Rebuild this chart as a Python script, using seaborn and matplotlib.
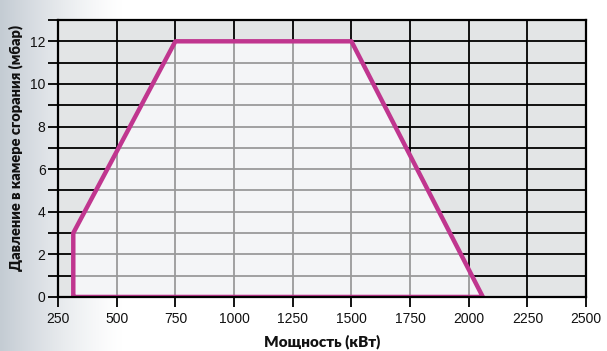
import numpy as np
import seaborn as sns
import matplotlib.pyplot as plt
from matplotlib.patches import Polygon

# Working field of the burner
power_kw = [315, 315, 750, 1500, 2060, 315]
pressure_mbar = [0, 3, 12, 12, 0, 0]

x_ticks = [250, 500, 750, 1000, 1250, 1500, 1750, 2000, 2250, 2500]
y_ticks = [0, 2, 4, 6, 8, 10, 12]
y_grid = list(range(0, 14))

sns.set_theme(style="white")
plt.rcParams['font.family'] = ['Liberation Sans', 'DejaVu Sans']

fig = plt.figure(figsize=(6.07, 3.51), dpi=100)

# soft background gradient on the left
bg = fig.add_axes([0, 0, 1, 1], zorder=-10)
grad = np.linspace(0, 1, 300)
alpha = np.clip(1 - grad / 0.2, 0, 1) ** 1.3
img = np.ones((2, 300, 3))
base = np.array([0.77, 0.80, 0.83])
for i in range(3):
    img[:, :, i] = 1 - (1 - base[i]) * alpha
bg.imshow(img, aspect="auto", extent=[0, 1, 0, 1])
bg.axis("off")

ax = fig.add_axes([0.0956, 0.154, 0.87, 0.789])
ax.set_facecolor("#e3e5e6")
ax.set_xlim(250, 2500)
ax.set_ylim(0, 13)

# dark grid outside the field
ax.vlines(x_ticks, 0, 13, color="black", lw=1.3, zorder=1)
ax.hlines(y_grid, 250, 2500, color="black", lw=1.3, zorder=1)

# light field with gray grid
field = Polygon(list(zip(power_kw, pressure_mbar)), closed=True,
                facecolor="#f4f5f7", edgecolor="none", zorder=2)
ax.add_patch(field)
vl = ax.vlines(x_ticks, 0, 13, color="#9a9a9a", lw=1.3, zorder=3)
hl = ax.hlines(y_grid, 250, 2500, color="#9a9a9a", lw=1.3, zorder=3)
vl.set_clip_path(field)
hl.set_clip_path(field)

sns.lineplot(x=power_kw, y=pressure_mbar, sort=False, color="#c0368f",
             lw=3.2, ax=ax, zorder=5, estimator=None)

for s in ax.spines.values():
    s.set_color("black")
    s.set_linewidth(1.6)
    s.set_zorder(6)

ax.set_xticks(x_ticks)
ax.set_yticks(y_grid)
ax.set_yticklabels([str(v) if v in y_ticks else "" for v in y_grid])
ax.tick_params(axis="both", direction="out", length=7, width=1.3,
               color="black", labelsize=10, labelcolor="#111111",
               left=True, bottom=True)
ax.tick_params(axis="x", pad=4)
ax.tick_params(axis="y", pad=2)

label_font = dict(family=['Lato', 'DejaVu Sans'],
                  fontweight="heavy", color="#111111")
ax.set_xlabel("Мощность (кВт)", fontsize=11, **label_font)
ax.set_ylabel("Давление в камере сгорания (мбар)", fontsize=10.5, **label_font)
ax.xaxis.set_label_coords(0.5, -0.135)
ax.yaxis.set_label_coords(-0.066, 0.538)

fig.savefig("out.png", dpi=100)
